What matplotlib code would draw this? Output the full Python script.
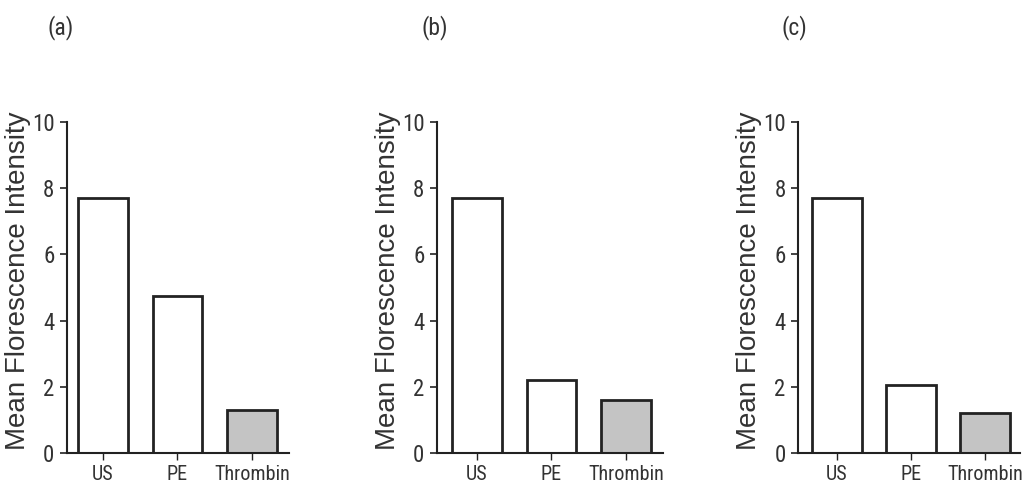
import matplotlib
matplotlib.use("Agg")
import matplotlib.pyplot as plt

categories = ["US", "PE", "Thrombin"]
panel_labels = ["(a)", "(b)", "(c)"]
values_a = [7.7, 4.75, 1.3]
values_b = [7.7, 2.2, 1.6]
values_c = [7.7, 2.05, 1.22]
all_values = [values_a, values_b, values_c]
y_ticks = [0, 2, 4, 6, 8, 10]
ylabel = "Mean Florescence Intensity"
fills = ["white", "white", "#c4c4c4"]

W, H = 1028, 492
fig = plt.figure(figsize=(W / 100, H / 100), dpi=100)
narrow = ["Roboto Condensed", "Liberation Sans", "DejaVu Sans"]
regular = ["Liberation Sans", "DejaVu Sans"]
ink = "#222222"

# axes pixel geometry: (left, right)
ax_px = [(67, 289), (437, 663), (798, 1020)]
xlims = [(-0.483, 2.497), (-0.537, 2.497), (-0.527, 2.47)]
ylabel_x = [18, 388, 749]
title_x = [61, 435, 794]
y0_px, y10_px = 453, 122

for i in range(3):
    l, r = ax_px[i]
    ax = fig.add_axes([l / W, 1 - y0_px / H, (r - l) / W, (y0_px - y10_px) / H])
    x = list(range(len(categories)))
    ax.bar(x, all_values[i], width=0.67, color=fills, edgecolor=ink, linewidth=2.0, zorder=2)
    ax.set_xlim(*xlims[i])
    ax.set_ylim(0, 10)
    ax.set_yticks(y_ticks)
    ax.set_xticks(x)
    ax.set_xticklabels(categories)
    for s in ["top", "right"]:
        ax.spines[s].set_visible(False)
    for s in ["left", "bottom"]:
        ax.spines[s].set_linewidth(1.5)
        ax.spines[s].set_color(ink)
    ax.spines["left"].set_bounds(0, 10)
    ax.tick_params(axis="y", length=5, width=1.2, pad=4, colors=ink, labelsize=16.5)
    ax.tick_params(axis="x", length=5, width=1.0, pad=4, colors=ink, labelsize=14.5)
    for lab in ax.get_xticklabels() + ax.get_yticklabels():
        lab.set_family(narrow)
        lab.set_color("#333333")
    fig.text(ylabel_x[i] / W, 1 - 281 / H, ylabel, rotation=90, ha="center", va="center",
             fontsize=20, family=regular, color="#333333")
    fig.text(title_x[i] / W, 1 - 28 / H, panel_labels[i], ha="center", va="center",
             fontsize=17, family=narrow, color="#333333")

fig.savefig("out.png", dpi=100)
